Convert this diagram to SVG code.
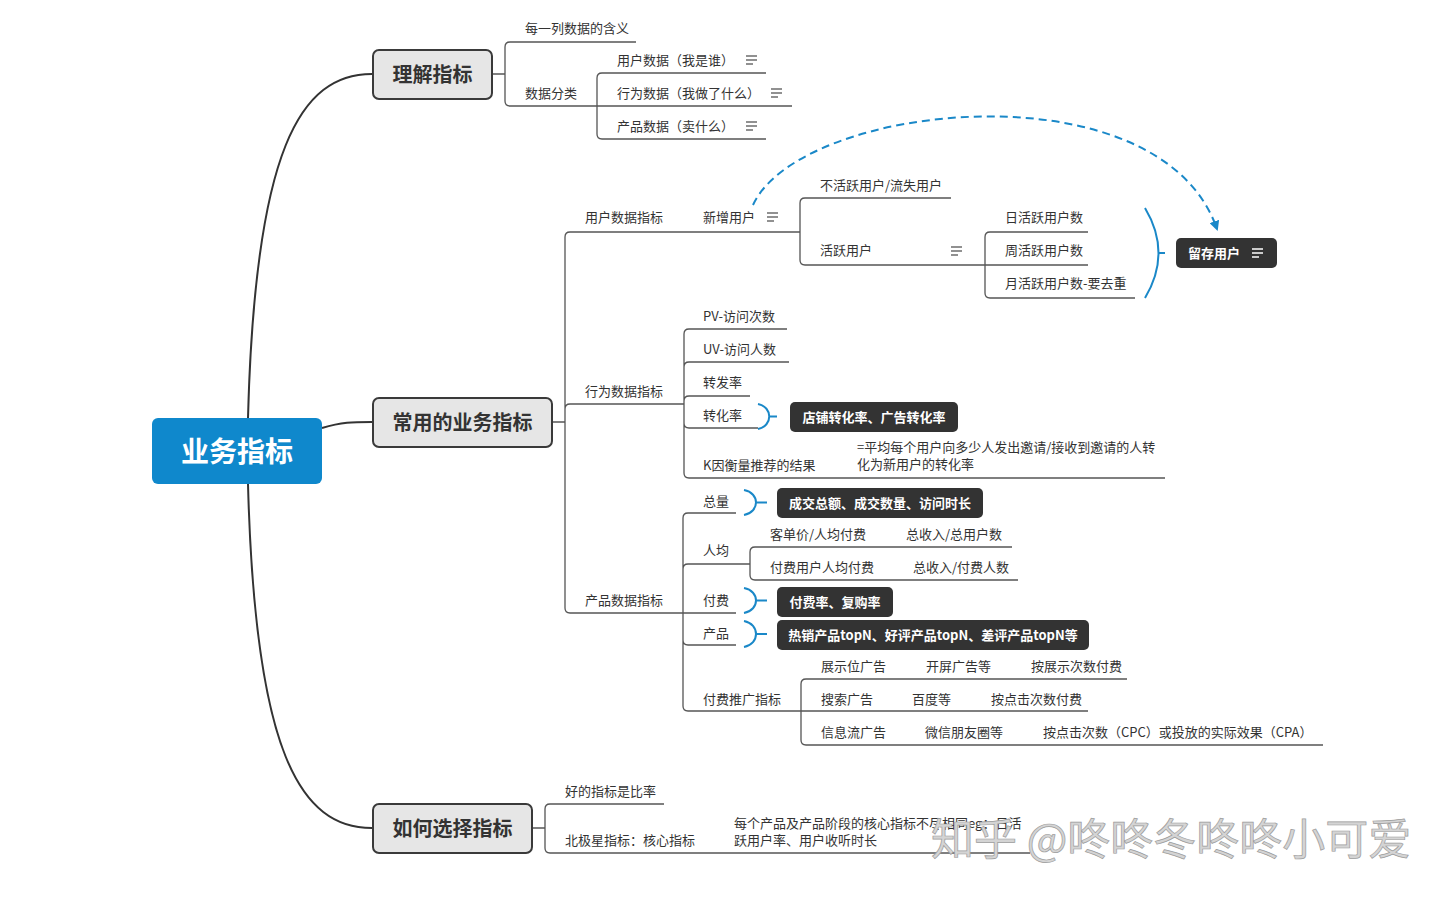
<svg xmlns="http://www.w3.org/2000/svg" width="1446" height="899" viewBox="0 0 1446 899">
<style>
.t{font-family:"Noto Sans CJK SC","Liberation Sans",sans-serif;font-size:13px;fill:#333}
.l1{font-family:"Noto Sans CJK SC","Liberation Sans",sans-serif;font-size:20px;font-weight:bold;fill:#333;text-anchor:middle}
.l1r{fill:#e6e6e6;stroke:#3a3a3a;stroke-width:2}
.dk{fill:#333}
.dkt{font-family:"Noto Sans CJK SC","Liberation Sans",sans-serif;font-size:13px;font-weight:bold;fill:#fff;text-anchor:middle}
.ln{fill:none;stroke:#555;stroke-width:1.3}
.mn{fill:none;stroke:#333;stroke-width:2}
.sm{fill:none;stroke:#1a88c8;stroke-width:2}
.ic{stroke:#555;stroke-width:1.3}
.icw{stroke:#fff;stroke-width:1.5}
.wm{font-family:"Noto Sans CJK SC","Liberation Sans",sans-serif;font-size:43px;fill:#d4d4d4;stroke:#9c9c9c;stroke-width:0.7}
</style>
<defs>
<marker id="arr" viewBox="0 0 10 10" refX="8" refY="5" markerWidth="5" markerHeight="5" orient="auto" markerUnits="strokeWidth">
<path d="M0,0 L10,5 L0,10 z" fill="#1a88c8"/>
</marker>
<g id="note" class="ic"><line x1="0" y1="-4" x2="11" y2="-4"/><line x1="0" y1="0" x2="11" y2="0"/><line x1="0" y1="4" x2="7" y2="4"/></g>
<g id="notew" class="icw"><line x1="0" y1="-4" x2="11" y2="-4"/><line x1="0" y1="0" x2="11" y2="0"/><line x1="0" y1="4" x2="7" y2="4"/></g>
</defs>
<rect width="1446" height="899" fill="#fff"/>

<g id="connectors">
<path class="mn" d="M248,418 C255,150 300,74 372,74"/>
<path class="mn" d="M248,484 C255,752 300,828 372,828"/>
<path class="mn" d="M322,428 C342,422 352,422 372,422"/>

<path class="ln" d="M492,74 H505 M505,74 V47 Q505,42 510,42 H636 M505,74 V101 Q505,106 510,106 H597"/>
<path class="ln" d="M597,106 V78 Q597,73 602,73 H766 M597,106 H792 M597,106 V134 Q597,139 602,139 H766"/>
<path class="ln" d="M552,422 H565 M565,422 V237 Q565,232 570,232 H683 M565,422 V409 Q565,404 570,404 H684 M565,422 V608 Q565,613 570,613 H683"/>
<path class="ln" d="M683,232 H800"/>
<path class="ln" d="M800,232 V203 Q800,198 805,198 H951 M800,232 V260 Q800,265 805,265 H985"/>
<path class="ln" d="M985,265 V237 Q985,232 990,232 H1088 M985,265 H1088 M985,265 V293 Q985,298 990,298 H1135"/>
<path class="ln" d="M684,404 V334 Q684,329 689,329 H787 M684,404 V367 Q684,362 689,362 H789 M684,404 V401 Q684,396 689,396 H750 M684,404 V423 Q684,428 689,428 H758 M684,404 V473 Q684,478 689,478 H1165"/>
<path class="ln" d="M683,613 V518 Q683,513 688,513 H736 M683,613 V569 Q683,564 688,564 H750 M683,613 H736 M683,613 V640 Q683,645 688,645 H736 M683,613 V706 Q683,711 688,711 H801"/>
<path class="ln" d="M750,564 V552 Q750,547 755,547 H1012 M750,564 V575 Q750,580 755,580 H1018"/>
<path class="ln" d="M801,711 V684 Q801,679 806,679 H1127 M801,711 H1088 M801,711 V740 Q801,745 806,745 H1323"/>
<path class="ln" d="M532,828 H545 M545,828 V809 Q545,804 550,804 H664 M545,828 V848 Q545,853 550,853 H1030"/>

<path class="sm" d="M1145,208 Q1172,253 1145,298 M1158,253 H1165"/>
<path class="sm" d="M758,404 C773,407 773,426 758,429 M769,416.5 H777"/>
<path class="sm" d="M744,490 C760,493 760,512 744,515 M756,502.5 H767"/>
<path class="sm" d="M744,588 C760,591 760,610 744,613 M756,600.5 H767"/>
<path class="sm" d="M744,621 C760,624 760,644 744,647 M756,634 H767"/>

<path d="M753,205 C800,102 1160,64 1217,229" fill="none" stroke="#1a88c8" stroke-width="2" stroke-dasharray="8,5" marker-end="url(#arr)"/>
</g>

<g id="root">
<rect x="152" y="418" width="170" height="66" rx="6" fill="#0f88cc"/>
<text x="237" y="462" text-anchor="middle" font-family="Noto Sans CJK SC, Liberation Sans, sans-serif" font-size="28" font-weight="bold" fill="#fff">业务指标</text>
</g>

<g id="n-lijie">
<rect class="l1r" x="373" y="50" width="119" height="49" rx="6"/>
<text class="l1" x="432.5" y="81.5">理解指标</text>
</g>
<g id="n-changyong">
<rect class="l1r" x="373" y="398" width="179" height="49" rx="6"/>
<text class="l1" x="462.5" y="429.5">常用的业务指标</text>
</g>
<g id="n-ruhe">
<rect class="l1r" x="373" y="804" width="159" height="49" rx="6"/>
<text class="l1" x="452.5" y="835.5">如何选择指标</text>
</g>

<g id="n-meiyilie"><text class="t" x="525" y="33">每一列数据的含义</text></g>
<g id="n-shujufenlei"><text class="t" x="525" y="97.5">数据分类</text></g>
<g id="n-yonghushuju"><text class="t" x="617" y="64.5">用户数据（我是谁）</text><use href="#note" x="746" y="60"/></g>
<g id="n-xingweishuju"><text class="t" x="617" y="97.5">行为数据（我做了什么）</text><use href="#note" x="771" y="93"/></g>
<g id="n-chanpinshuju"><text class="t" x="617" y="130.5">产品数据（卖什么）</text><use href="#note" x="746" y="126"/></g>

<g id="n-yonghuzhibiao"><text class="t" x="585" y="221.5">用户数据指标</text></g>
<g id="n-xinzeng"><text class="t" x="703" y="221.5">新增用户</text><use href="#note" x="767" y="217"/></g>
<g id="n-buhuoyue"><text class="t" x="820" y="189.5">不活跃用户/流失用户</text></g>
<g id="n-huoyue"><text class="t" x="820" y="254.5">活跃用户</text><use href="#note" x="951" y="251"/></g>
<g id="n-rihuo"><text class="t" x="1005" y="221.5">日活跃用户数</text></g>
<g id="n-zhouhuo"><text class="t" x="1005" y="254.5">周活跃用户数</text></g>
<g id="n-yuehuo"><text class="t" x="1005" y="287.5">月活跃用户数-要去重</text></g>
<g id="n-liucun">
<rect class="dk" x="1176" y="238" width="101" height="30" rx="5"/>
<text x="1188" y="258" font-family="Noto Sans CJK SC, Liberation Sans, sans-serif" font-size="13" font-weight="bold" fill="#fff">留存用户</text>
<use href="#notew" x="1252" y="253"/>
</g>

<g id="n-xingweizhibiao"><text class="t" x="585" y="395.5">行为数据指标</text></g>
<g id="n-pv"><text class="t" x="703" y="320.5">PV-访问次数</text></g>
<g id="n-uv"><text class="t" x="703" y="353.5">UV-访问人数</text></g>
<g id="n-zhuanfa"><text class="t" x="703" y="386.5">转发率</text></g>
<g id="n-zhuanhua"><text class="t" x="703" y="419.5">转化率</text></g>
<g id="n-zhuanhua-sum">
<rect class="dk" x="790" y="402" width="168" height="30" rx="5"/>
<text class="dkt" x="874" y="421.5">店铺转化率、广告转化率</text>
</g>
<g id="n-kyin">
<text class="t" x="703" y="469.5">K因衡量推荐的结果</text>
<text class="t" x="857" y="452"><tspan x="857" y="452">=平均每个用户向多少人发出邀请/接收到邀请的人转</tspan><tspan x="857" y="468.5">化为新用户的转化率</tspan></text>
</g>

<g id="n-chanpinzhibiao"><text class="t" x="585" y="604.5">产品数据指标</text></g>
<g id="n-zongliang"><text class="t" x="703" y="505.5">总量</text></g>
<g id="n-zongliang-sum">
<rect class="dk" x="777" y="488" width="206" height="30" rx="5"/>
<text class="dkt" x="880" y="507.5">成交总额、成交数量、访问时长</text>
</g>
<g id="n-renjun"><text class="t" x="703" y="554.5">人均</text></g>
<g id="n-kedanjia"><text class="t" x="770" y="538.5">客单价/人均付费</text><text class="t" x="906" y="538.5">总收入/总用户数</text></g>
<g id="n-fufeiyonghu"><text class="t" x="770" y="571.5">付费用户人均付费</text><text class="t" x="913" y="571.5">总收入/付费人数</text></g>
<g id="n-fufei"><text class="t" x="703" y="604.5">付费</text></g>
<g id="n-fufei-sum">
<rect class="dk" x="777" y="587" width="116" height="30" rx="5"/>
<text class="dkt" x="835" y="606.5">付费率、复购率</text>
</g>
<g id="n-chanpin"><text class="t" x="703" y="637.5">产品</text></g>
<g id="n-chanpin-sum">
<rect class="dk" x="777" y="620" width="312" height="30" rx="5"/>
<text class="dkt" x="933" y="639.5">热销产品topN、好评产品topN、差评产品topN等</text>
</g>
<g id="n-tuiguang"><text class="t" x="703" y="703.5">付费推广指标</text></g>
<g id="n-zhanshi"><text class="t" x="821" y="670.5">展示位广告</text><text class="t" x="926" y="670.5">开屏广告等</text><text class="t" x="1031" y="670.5">按展示次数付费</text></g>
<g id="n-sousuo"><text class="t" x="821" y="703.5">搜索广告</text><text class="t" x="912" y="703.5">百度等</text><text class="t" x="991" y="703.5">按点击次数付费</text></g>
<g id="n-xinxiliu"><text class="t" x="821" y="736.5">信息流广告</text><text class="t" x="925" y="736.5">微信朋友圈等</text><text class="t" x="1043" y="736.5">按点击次数（CPC）或投放的实际效果（CPA）</text></g>

<g id="n-haode"><text class="t" x="565" y="795.5">好的指标是比率</text></g>
<g id="n-beijixing">
<text class="t" x="565" y="844.5">北极星指标：核心指标</text>
<text class="t" x="734" y="827.5"><tspan x="734" y="827.5">每个产品及产品阶段的核心指标不尽相同eg：日活</tspan><tspan x="734" y="844.5">跃用户率、用户收听时长</tspan></text>
</g>

<text class="wm" x="931" y="855">知乎 @咚咚冬咚咚小可爱</text>
</svg>
